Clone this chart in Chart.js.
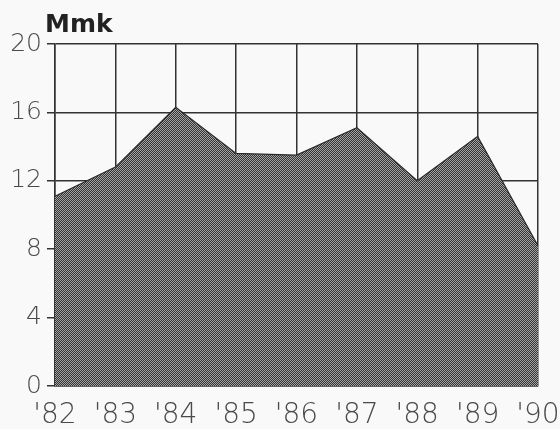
<!DOCTYPE html>
<html>
<head>
<meta charset="utf-8">
<script src="https://cdn.jsdelivr.net/npm/chart.js@4/dist/chart.umd.min.js"></script>
<style>
  html, body { margin: 0; padding: 0; background: #f9f9f9; }
  #wrap { width: 560px; height: 429px; position: relative; }
</style>
</head>
<body>
<div id="wrap"><canvas id="chart"></canvas></div>
<script>
const years = ["'82", "'83", "'84", "'85", "'86", "'87", "'88", "'89", "'90"];
const values = [11.1, 12.8, 16.3, 13.6, 13.5, 15.1, 12.0, 14.6, 8.2];
const unitLabel = 'Mmk';

// checkerboard halftone fill like the printed original
function dotPattern() {
  const c = document.createElement('canvas');
  c.width = 2; c.height = 2;
  const g = c.getContext('2d');
  g.fillStyle = '#333';
  g.fillRect(0, 0, 2, 2);
  g.fillStyle = '#a4a4a4';
  g.fillRect(0, 0, 1, 1);
  g.fillRect(1, 1, 1, 1);
  return g.createPattern(c, 'repeat');
}

const unitTitle = {
  id: 'unitTitle',
  afterDraw(chart) {
    const { ctx, chartArea } = chart;
    ctx.save();
    ctx.font = 'bold 25px "DejaVu Sans", sans-serif';
    ctx.fillStyle = '#222';
    ctx.textBaseline = 'alphabetic';
    ctx.fillText(unitLabel, chartArea.left - 10, chartArea.top - 12);
    ctx.restore();
  }
};

const yFont = { family: '"DejaVu Sans", sans-serif', size: 25, weight: 200 };
const xFont = { family: '"DejaVu Sans", sans-serif', size: 28, weight: 200, lineHeight: 1 };

new Chart(document.getElementById('chart'), {
  type: 'line',
  data: {
    labels: years,
    datasets: [{
      data: values,
      borderColor: '#2a2a2a',
      borderWidth: 1.2,
      backgroundColor: dotPattern(),
      fill: 'origin',
      tension: 0,
      pointRadius: 0,
    }],
  },
  options: {
    responsive: true,
    maintainAspectRatio: false,
    animation: false,
    layout: { padding: { top: 44, right: 22, left: 0, bottom: 0 } },
    plugins: {
      legend: { display: false },
      tooltip: { enabled: false },
    },
    scales: {
      x: {
        offset: false,
        grid: { color: '#333', lineWidth: 1.5, drawTicks: false },
        border: { color: '#333', width: 1.5 },
        ticks: { color: '#4a4a4a', font: xFont, padding: 16, maxRotation: 0, autoSkip: false },
        afterFit: (scale) => {
          scale.height = 43;
          scale.paddingLeft = 0;
          scale.paddingRight = 0;
        },
      },
      y: {
        min: 0,
        max: 20,
        grid: { color: '#333', lineWidth: 1.5, tickLength: 8 },
        border: { color: '#333', width: 1.5 },
        ticks: { stepSize: 4, color: '#4a4a4a', font: yFont, padding: 5 },
        afterFit: (scale) => { scale.width = 55; },
      },
    },
  },
  plugins: [unitTitle],
});
</script>
</body>
</html>
